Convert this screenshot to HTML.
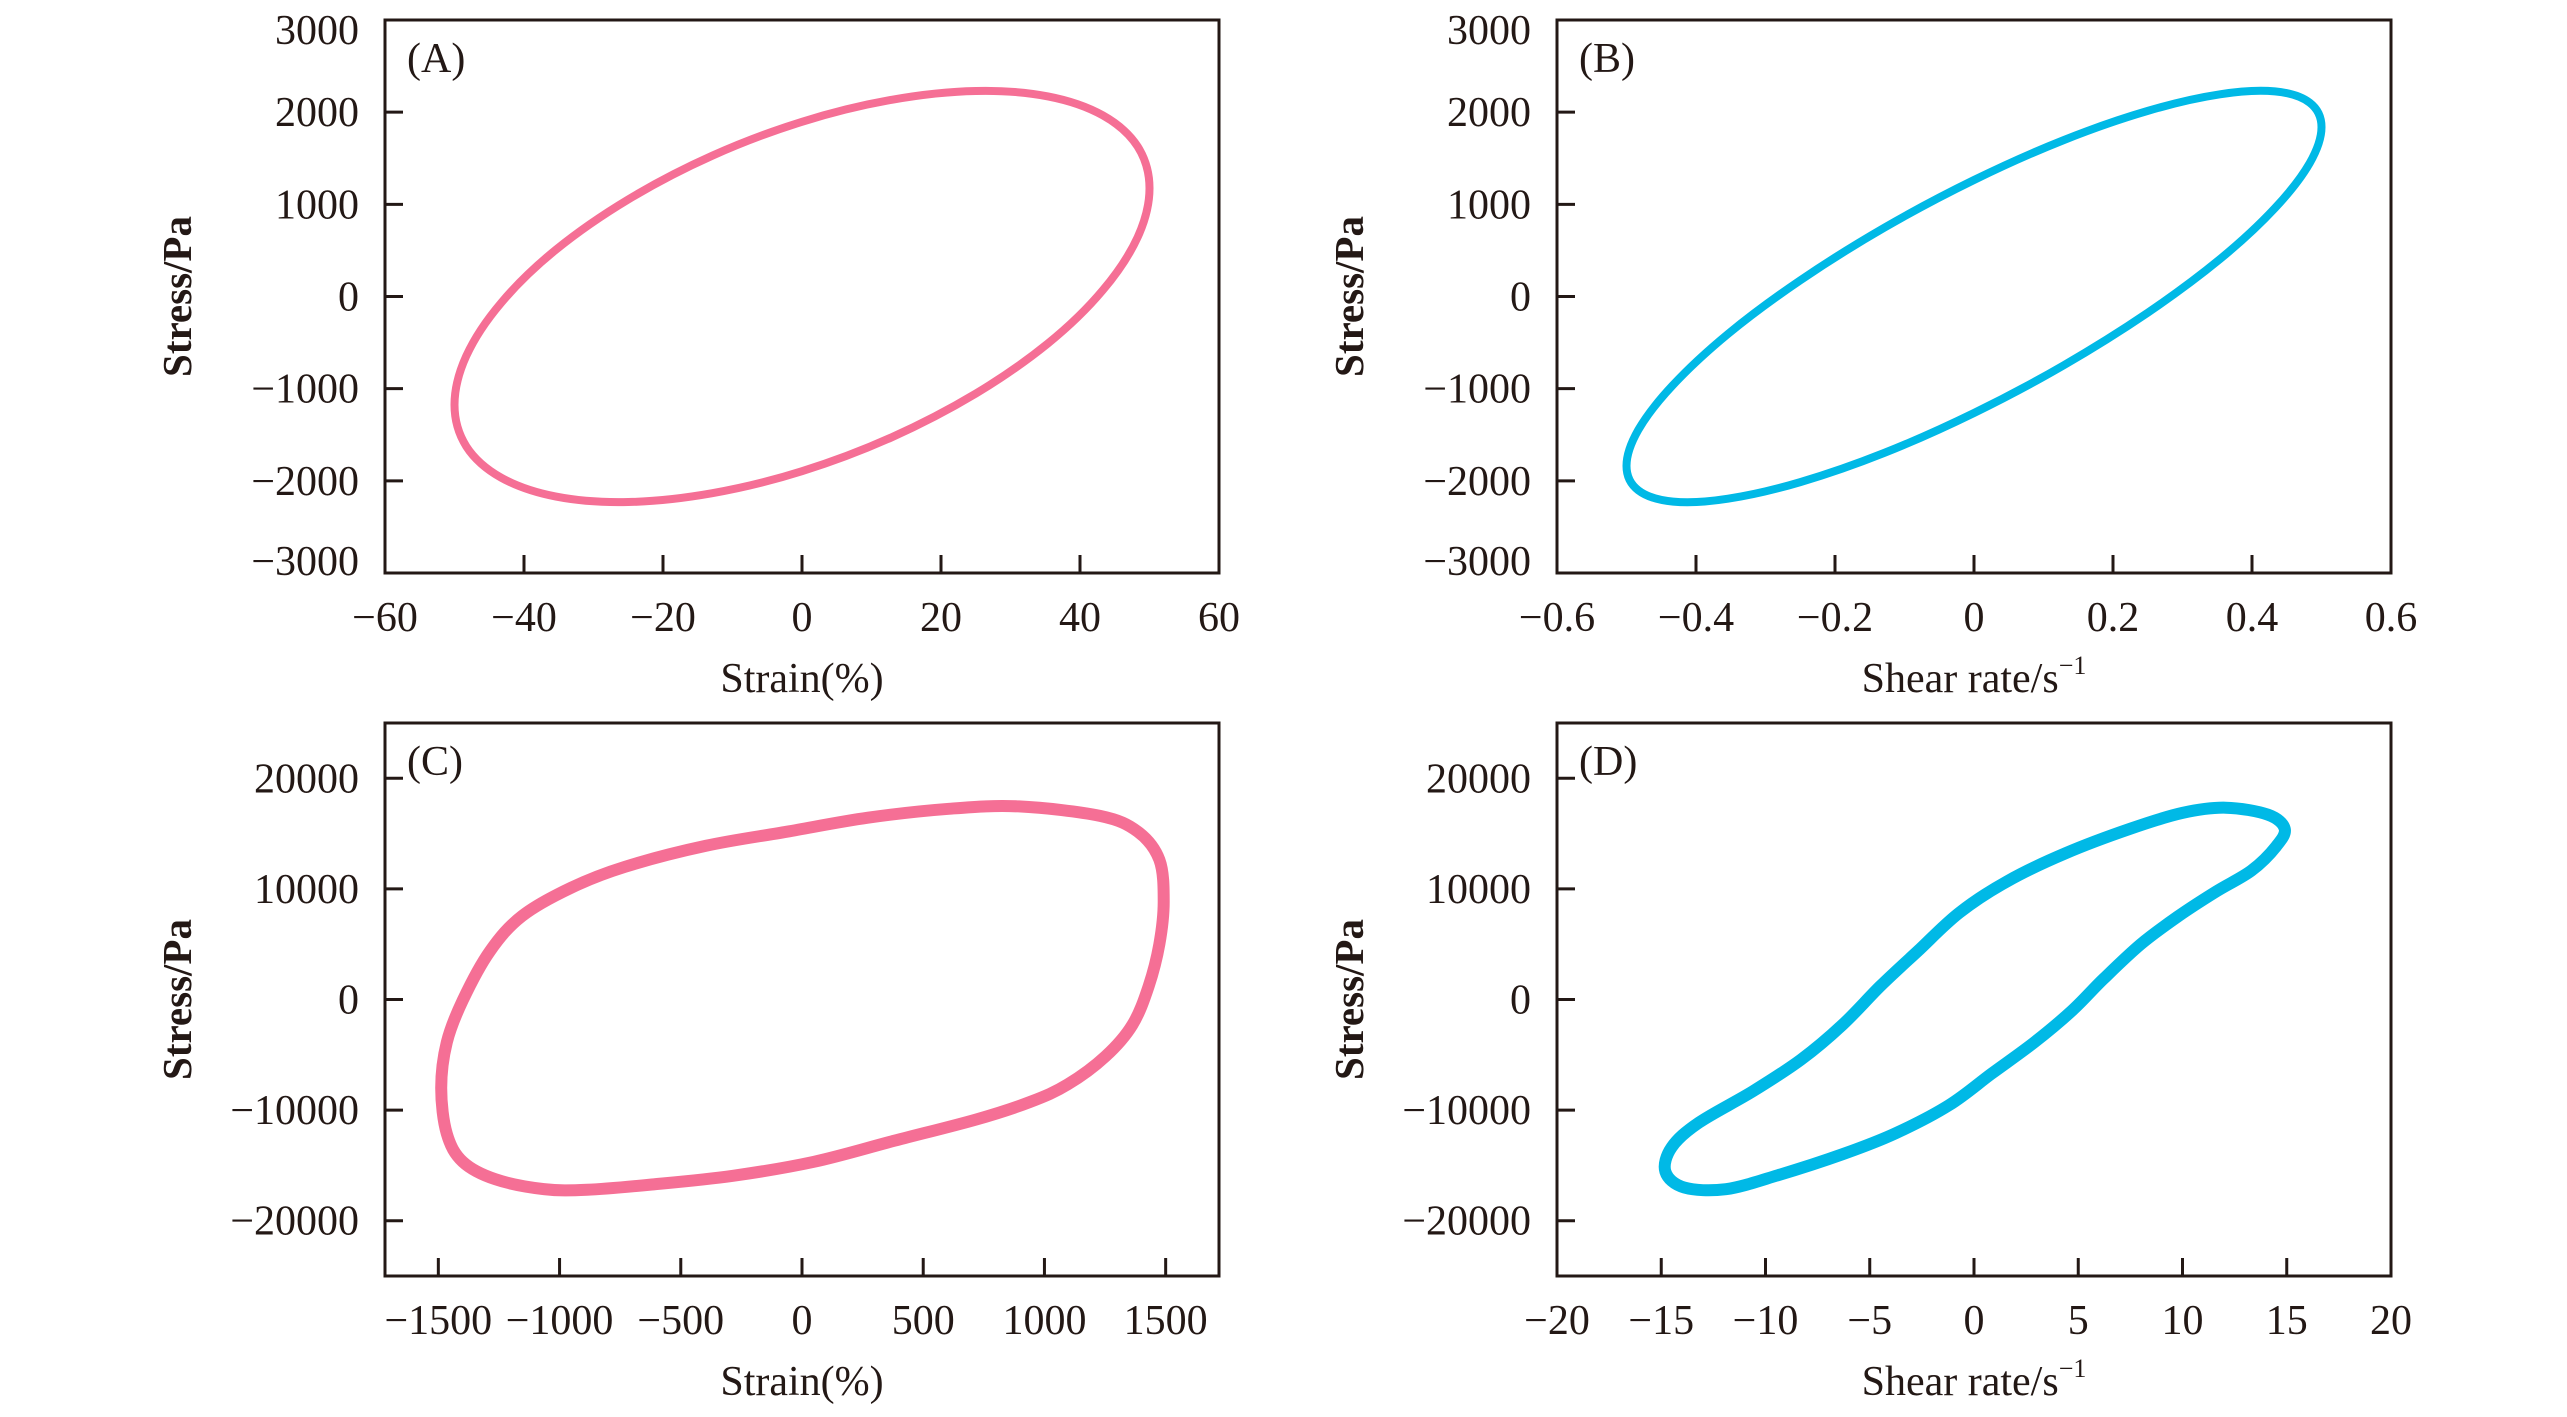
<!DOCTYPE html>
<html><head><meta charset="utf-8">
<style>
html,body{margin:0;padding:0;background:#fff;}
svg{display:block;}
text{font-family:"Liberation Serif",serif;fill:#231815;}
</style></head>
<body>
<svg id="fig" width="2567" height="1417" viewBox="0 0 2567 1417" xmlns="http://www.w3.org/2000/svg"></svg>
<script>
// Panel A: strain (%) vs stress (Pa)
const aStrain = [0,12.9,25,35.4,43.3,48.3,50,48.3,43.3,35.4,25,12.9,0,-12.9,-25,-35.4,-43.3,-48.3,-50,-48.3,-43.3,-35.4,-25,-12.9];
const aStress = [1896,2134,2230,2171,1965,1626,1175,644,69,-509,-1053,-1528,-1896,-2134,-2230,-2171,-1965,-1626,-1175,-644,-69,509,1053,1528];
// Panel B: shear rate vs stress
const bRate = [0,0.129,0.25,0.354,0.433,0.483,0.5,0.483,0.433,0.354,0.25,0.129,0,-0.129,-0.25,-0.354,-0.433,-0.483,-0.5,-0.483,-0.433,-0.354,-0.25,-0.129];
const bStress = [1264,1697,2014,2194,2225,2103,1838,1447,959,406,-176,-747,-1264,-1697,-2014,-2194,-2225,-2103,-1838,-1447,-959,-406,176,747];
// Panel C: strain (%) vs stress (Pa)
const cStrain = [895,1229,1385,1474,1492,1474,1430,1363,1252,1096,940,717,383,49,-285,-619,-886,-1065,-1265,-1399,-1465,-1488,-1465,-1399,-1287,-1154,-953,-730,-396,-62,272,606];
const cStress = [17460,16600,15170,12630,8830,5020,1210,-2290,-5140,-7680,-9270,-10860,-12760,-14670,-15940,-16730,-17210,-17140,-16250,-14670,-12130,-8000,-3870,-60,4380,7560,10100,12000,13900,15170,16440,17240];
// Panel D: shear rate vs stress
const dRate = [12.07,14.1,14.9,14.5,13.3,11.6,9.8,8.0,6.2,4.7,2.9,0.84,-1.2,-3.75,-6.3,-9.4,-11.9,-13.9,-14.8,-14.5,-13.2,-10.6,-8.3,-6.3,-4.5,-2.7,-0.7,1.6,4.4,7.5,10.0];
const dStress = [17340,16710,15440,13860,11650,9750,7530,5000,1840,-1010,-3860,-6710,-9560,-12090,-13990,-15890,-17150,-17000,-15570,-13350,-11140,-8290,-5440,-2280,1200,4370,7850,10700,13230,15440,16870];

const aXTicks = [-60,-40,-20,0,20,40,60];
const abYTicks = [3000,2000,1000,0,-1000,-2000,-3000];
const bXTicks = [-0.6,-0.4,-0.2,0,0.2,0.4,0.6];
const cXTicks = [-1500,-1000,-500,0,500,1000,1500];
const cdYTicks = [20000,10000,0,-10000,-20000];
const dXTicks = [-20,-15,-10,-5,0,5,10,15,20];

const NS = "http://www.w3.org/2000/svg";
const svg = document.getElementById('fig');
function el(tag, attrs, parent){
  const e = document.createElementNS(NS, tag);
  for (const k in attrs) e.setAttribute(k, attrs[k]);
  (parent||svg).appendChild(e);
  return e;
}
function fmt(v){ const s = String(Math.round(v*10)/10); return v<0 ? '\u2212'+s.slice(1) : s; }

function panel(cfg){
  const g = el('g', {});
  
  
  const L=cfg.x0, R=cfg.x1, T=cfg.y0, B=cfg.y1;
  const sx = v => L + (v - cfg.xmin)/(cfg.xmax - cfg.xmin)*(R-L);
  const sy = v => B - (v - cfg.ymin)/(cfg.ymax - cfg.ymin)*(B-T);
  const pts = cfg.xs.map((x,i)=>[sx(x), sy(cfg.ys[i])]);
  const n = pts.length;
  let d = 'M'+pts[0][0].toFixed(1)+','+pts[0][1].toFixed(1);
  for (let i=0;i<n;i++){
    const p0=pts[(i-1+n)%n], p1=pts[i], p2=pts[(i+1)%n], p3=pts[(i+2)%n];
    const c1=[p1[0]+(p2[0]-p0[0])/6, p1[1]+(p2[1]-p0[1])/6];
    const c2=[p2[0]-(p3[0]-p1[0])/6, p2[1]-(p3[1]-p1[1])/6];
    d += 'C'+c1[0].toFixed(1)+','+c1[1].toFixed(1)+' '+c2[0].toFixed(1)+','+c2[1].toFixed(1)+' '+p2[0].toFixed(1)+','+p2[1].toFixed(1);
  }
  const path = el('path', {d:d+'Z', fill:'none', stroke:cfg.color, 'stroke-width':cfg.sw, 'stroke-linejoin':'round'}, g);
  
  
  const fr = el('rect', {x:L, y:T, width:R-L, height:B-T, fill:'none', stroke:'#231815', 'stroke-width':3}, g);
  
  
  cfg.xt.forEach(v=>{
    const x = sx(v);
    if (v!==cfg.xmin && v!==cfg.xmax) el('line',{x1:x,y1:B,x2:x,y2:B-18,stroke:'#231815','stroke-width':3},g);
    const t = el('text',{x:x, y:B+58, 'font-size':42, 'text-anchor':'middle'}, g);
    t.textContent = fmt(v);
    
    
  });
  cfg.yt.forEach(v=>{
    const y = sy(v);
    if (v!==cfg.ymin && v!==cfg.ymax) el('line',{x1:L,y1:y,x2:L+18,y2:y,stroke:'#231815','stroke-width':3},g);
    let ty = y+14;
    if (v===cfg.ymax) ty = y+24;
    if (v===cfg.ymin) ty = y+2;
    const t = el('text',{x:L-26, y:ty, 'font-size':42, 'text-anchor':'end'}, g);
    t.textContent = fmt(v);
    
    
  });
  const lab = el('text',{x:L+22, y:T+52, 'font-size':42}, g);
  lab.textContent = cfg.label;
  
  
  const yt = el('text',{x:0, y:0, 'font-size':41, 'font-weight':'bold', 'text-anchor':'middle', transform:'translate('+(L-194)+','+((T+B)/2)+') rotate(-90)'}, g);
  yt.textContent = 'Stress/Pa';
  
  
  const xt = el('text',{x:(L+R)/2, y:B+119, 'font-size':42, 'text-anchor':'middle'}, g);
  
  
  if (cfg.xtitle==='shear'){
    xt.textContent = 'Shear rate/s';
    const sp = el('tspan',{'font-size':26, dy:-18}, xt);
    sp.textContent = '\u22121';
  } else xt.textContent = 'Strain(%)';
}

panel({name:'panel-a', x0:385,x1:1219,y0:20,y1:573, xmin:-60,xmax:60,ymin:-3000,ymax:3000, xs:aStrain, ys:aStress, xt:aXTicks, yt:abYTicks, color:'#f56f95', sw:8, label:'(A)', xtitle:'strain'});
panel({name:'panel-b', x0:1557,x1:2391,y0:20,y1:573, xmin:-0.6,xmax:0.6,ymin:-3000,ymax:3000, xs:bRate, ys:bStress, xt:bXTicks, yt:abYTicks, color:'#00b9e6', sw:8, label:'(B)', xtitle:'shear'});
panel({name:'panel-c', x0:385,x1:1219,y0:723,y1:1276, xmin:-1720,xmax:1720,ymin:-25000,ymax:25000, xs:cStrain, ys:cStress, xt:cXTicks, yt:cdYTicks, color:'#f56f95', sw:12, label:'(C)', xtitle:'strain'});
panel({name:'panel-d', x0:1557,x1:2391,y0:723,y1:1276, xmin:-20,xmax:20,ymin:-25000,ymax:25000, xs:dRate, ys:dStress, xt:dXTicks, yt:cdYTicks, color:'#00b9e6', sw:12, label:'(D)', xtitle:'shear'});
</script>
</body></html>
